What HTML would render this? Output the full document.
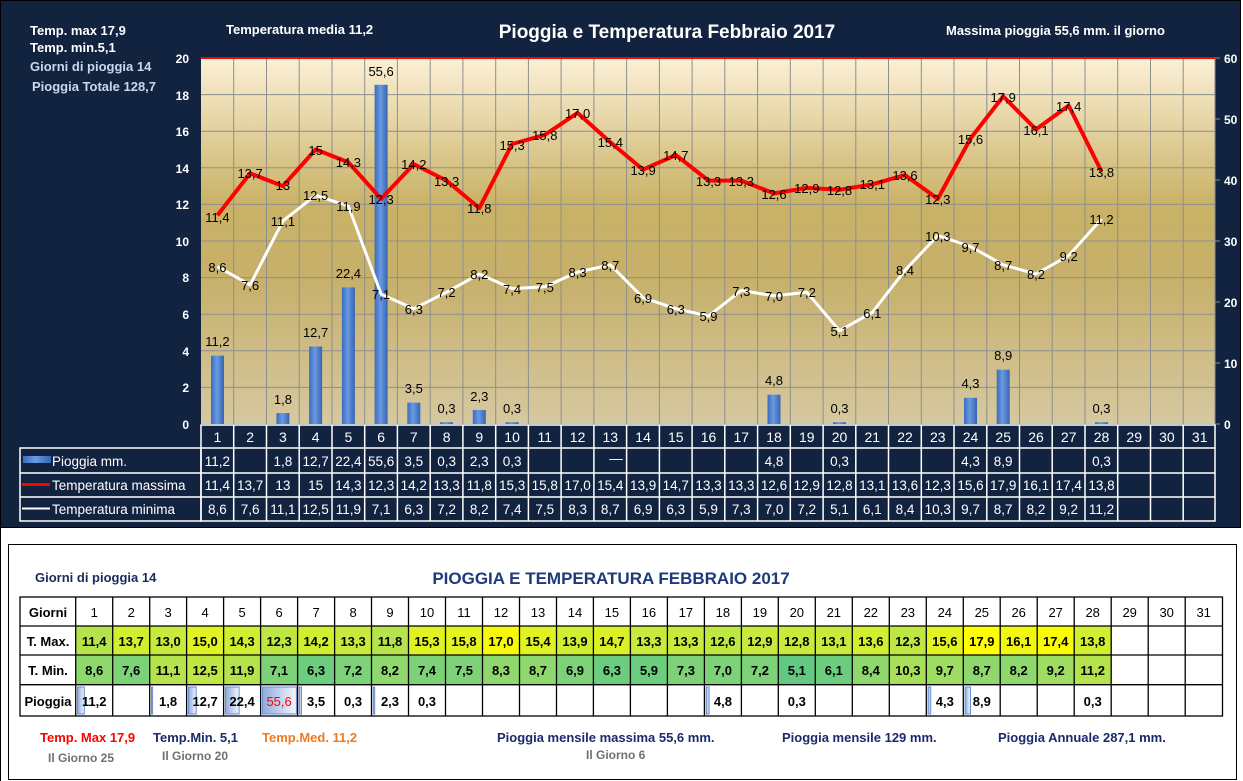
<!DOCTYPE html>
<html><head><meta charset="utf-8"><style>
html,body{margin:0;padding:0;background:#fff;}
svg{display:block;font-family:"Liberation Sans",sans-serif;}
</style></head><body>
<svg width="1243" height="781" viewBox="0 0 1243 781" xmlns="http://www.w3.org/2000/svg">
<defs>
<linearGradient id="bg" x1="0" y1="0" x2="0" y2="1">
<stop offset="0" stop-color="#fcf0d6"/><stop offset="0.4" stop-color="#c9b266"/><stop offset="0.6" stop-color="#c6b06a"/><stop offset="1" stop-color="#d6c8a0"/>
</linearGradient>
<linearGradient id="bar" x1="0" y1="0" x2="1" y2="0">
<stop offset="0" stop-color="#3a6cc0"/><stop offset="0.45" stop-color="#6a9ae0"/><stop offset="1" stop-color="#3564b4"/>
</linearGradient>
<linearGradient id="db" x1="0" y1="0" x2="1" y2="0">
<stop offset="0" stop-color="#8eaadc"/><stop offset="1" stop-color="#f4f7fc"/>
</linearGradient>
</defs>
<rect x="0" y="0" width="1243" height="781" fill="#fff"/>
<rect x="0.5" y="0.5" width="1240" height="527" fill="#12233f" stroke="#000"/>
<line x1="0.5" y1="0" x2="0.5" y2="781" stroke="#000"/>
<!-- top texts -->
<g fill="#fff" font-weight="bold" font-size="13">
<text x="30" y="35">Temp. max  17,9</text>
<text x="30" y="52">Temp.  min.5,1</text>
<text x="226" y="34">Temperatura media  11,2</text>
<text x="946" y="35">Massima pioggia  55,6 mm.  il giorno</text>
</g>
<g fill="#c8d8f0" font-weight="bold" font-size="13">
<text x="30" y="71">Giorni  di pioggia   14</text>
<text x="32" y="91">Pioggia Totale   128,7</text>
</g>
<text x="667" y="38" fill="#fff" font-weight="bold" font-size="19" text-anchor="middle">Pioggia e Temperatura Febbraio 2017</text>
<!-- plot -->
<rect x="201" y="58" width="1014" height="366" fill="url(#bg)"/>
<g stroke="#8e8e8e" stroke-width="1">
<line x1="201" y1="94.6" x2="1215" y2="94.6"/><line x1="201" y1="131.2" x2="1215" y2="131.2"/><line x1="201" y1="167.8" x2="1215" y2="167.8"/><line x1="201" y1="204.4" x2="1215" y2="204.4"/><line x1="201" y1="241" x2="1215" y2="241"/><line x1="201" y1="277.6" x2="1215" y2="277.6"/><line x1="201" y1="314.2" x2="1215" y2="314.2"/><line x1="201" y1="350.8" x2="1215" y2="350.8"/><line x1="201" y1="387.4" x2="1215" y2="387.4"/>
<line x1="233.7" y1="58" x2="233.7" y2="424"/><line x1="266.5" y1="58" x2="266.5" y2="424"/><line x1="299.2" y1="58" x2="299.2" y2="424"/><line x1="332" y1="58" x2="332" y2="424"/><line x1="364.7" y1="58" x2="364.7" y2="424"/><line x1="397.4" y1="58" x2="397.4" y2="424"/><line x1="430.2" y1="58" x2="430.2" y2="424"/><line x1="462.9" y1="58" x2="462.9" y2="424"/><line x1="495.7" y1="58" x2="495.7" y2="424"/><line x1="528.4" y1="58" x2="528.4" y2="424"/><line x1="561.1" y1="58" x2="561.1" y2="424"/><line x1="593.9" y1="58" x2="593.9" y2="424"/><line x1="626.6" y1="58" x2="626.6" y2="424"/><line x1="659.4" y1="58" x2="659.4" y2="424"/><line x1="692.1" y1="58" x2="692.1" y2="424"/><line x1="724.8" y1="58" x2="724.8" y2="424"/><line x1="757.6" y1="58" x2="757.6" y2="424"/><line x1="790.3" y1="58" x2="790.3" y2="424"/><line x1="823.1" y1="58" x2="823.1" y2="424"/><line x1="855.8" y1="58" x2="855.8" y2="424"/><line x1="888.5" y1="58" x2="888.5" y2="424"/><line x1="921.3" y1="58" x2="921.3" y2="424"/><line x1="954" y1="58" x2="954" y2="424"/><line x1="986.8" y1="58" x2="986.8" y2="424"/><line x1="1019.5" y1="58" x2="1019.5" y2="424"/><line x1="1052.2" y1="58" x2="1052.2" y2="424"/><line x1="1085" y1="58" x2="1085" y2="424"/><line x1="1117.7" y1="58" x2="1117.7" y2="424"/><line x1="1150.5" y1="58" x2="1150.5" y2="424"/><line x1="1183.2" y1="58" x2="1183.2" y2="424"/>
<line x1="1215" y1="58" x2="1215" y2="424"/>
<line x1="1215" y1="58" x2="1220" y2="58"/><line x1="1215" y1="119" x2="1220" y2="119"/><line x1="1215" y1="180" x2="1220" y2="180"/><line x1="1215" y1="241" x2="1220" y2="241"/><line x1="1215" y1="302" x2="1220" y2="302"/><line x1="1215" y1="363" x2="1220" y2="363"/><line x1="1215" y1="424" x2="1220" y2="424"/>
</g>
<line x1="201" y1="58" x2="1215" y2="58" stroke="#ff0000" stroke-width="2"/>
<!-- axis labels -->
<g fill="#fff" font-weight="bold" font-size="12" text-anchor="end">
<text x="189" y="63">20</text><text x="189" y="100">18</text><text x="189" y="136">16</text><text x="189" y="173">14</text><text x="189" y="209">12</text><text x="189" y="246">10</text><text x="189" y="282">8</text><text x="189" y="319">6</text><text x="189" y="356">4</text><text x="189" y="392">2</text><text x="189" y="429">0</text>
</g>
<g fill="#fff" font-weight="bold" font-size="12">
<text x="1224" y="63">60</text><text x="1224" y="124">50</text><text x="1224" y="185">40</text><text x="1224" y="246">30</text><text x="1224" y="307">20</text><text x="1224" y="368">10</text><text x="1224" y="429">0</text>
</g>
<!-- bars -->
<g fill="url(#bar)">
<rect x="211" y="355.7" width="13" height="68.3"/>
<rect x="276.4" y="413" width="13" height="11"/>
<rect x="309.1" y="346.5" width="13" height="77.5"/>
<rect x="341.9" y="287.4" width="13" height="136.6"/>
<rect x="374.6" y="84.8" width="13" height="339.2"/>
<rect x="407.3" y="402.6" width="13" height="21.4"/>
<rect x="440.1" y="422.2" width="13" height="1.8"/>
<rect x="472.8" y="410" width="13" height="14"/>
<rect x="505.6" y="422.2" width="13" height="1.8"/>
<rect x="767.5" y="394.7" width="13" height="29.3"/>
<rect x="833" y="422.2" width="13" height="1.8"/>
<rect x="964" y="397.8" width="13" height="26.2"/>
<rect x="996.7" y="369.7" width="13" height="54.3"/>
<rect x="1095" y="422.2" width="13" height="1.8"/>
</g>
<g fill="#000" font-size="13" text-anchor="middle">
<text x="217.4" y="346">11,2</text><text x="282.9" y="404">1,8</text><text x="315.6" y="337">12,7</text><text x="348.4" y="278">22,4</text><text x="381.1" y="76">55,6</text><text x="413.8" y="393">3,5</text><text x="446.6" y="413">0,3</text><text x="479.3" y="401">2,3</text><text x="512.1" y="413">0,3</text><text x="774" y="385">4,8</text><text x="839.5" y="413">0,3</text><text x="970.5" y="388">4,3</text><text x="1003.2" y="360">8,9</text><text x="1101.5" y="413">0,3</text>
</g>
<!-- lines -->
<polyline fill="none" stroke="#fff" stroke-width="3" stroke-linejoin="round" points="217.4,266.6 250.1,284.9 282.9,220.9 315.6,195.3 348.4,206.2 381.1,294.1 413.8,308.7 446.6,292.2 479.3,274 512.1,288.6 544.8,286.8 577.6,272.1 610.3,264.8 643.1,297.7 675.8,308.7 708.5,316 741.3,290.4 774,295.9 806.8,292.2 839.5,330.7 872.3,312.4 905,270.3 937.8,235.5 970.5,246.5 1003.2,264.8 1036,274 1068.7,255.6 1101.5,219"/>
<polyline fill="none" stroke="#ff0000" stroke-width="4" stroke-linejoin="round" points="217.4,215.4 250.1,173.3 282.9,186.1 315.6,149.5 348.4,162.3 381.1,198.9 413.8,164.1 446.6,180.6 479.3,208.1 512.1,144 544.8,134.9 577.6,112.9 610.3,142.2 643.1,169.6 675.8,155 708.5,180.6 741.3,180.6 774,193.4 806.8,187.9 839.5,189.8 872.3,184.3 905,175.1 937.8,198.9 970.5,138.5 1003.2,96.4 1036,129.4 1068.7,105.6 1101.5,171.5"/>
<g fill="#000" font-size="13" text-anchor="middle">
<text x="217.4" y="222">11,4</text><text x="250.1" y="178">13,7</text><text x="282.9" y="190">13</text><text x="315.6" y="155">15</text><text x="348.4" y="167">14,3</text><text x="381.1" y="204">12,3</text><text x="413.8" y="169">14,2</text><text x="446.6" y="186">13,3</text><text x="479.3" y="213">11,8</text><text x="512.1" y="150">15,3</text><text x="544.8" y="140">15,8</text><text x="577.6" y="118">17,0</text><text x="610.3" y="147">15,4</text><text x="643.1" y="175">13,9</text><text x="675.8" y="160">14,7</text><text x="708.5" y="186">13,3</text><text x="741.3" y="186">13,3</text><text x="774" y="199">12,6</text><text x="806.8" y="193">12,9</text><text x="839.5" y="195">12,8</text><text x="872.3" y="189">13,1</text><text x="905" y="180">13,6</text><text x="937.8" y="204">12,3</text><text x="970.5" y="144">15,6</text><text x="1003.2" y="102">17,9</text><text x="1036" y="135">16,1</text><text x="1068.7" y="111">17,4</text><text x="1101.5" y="177">13,8</text>
<text x="217.4" y="272">8,6</text><text x="250.1" y="290">7,6</text><text x="282.9" y="226">11,1</text><text x="315.6" y="200">12,5</text><text x="348.4" y="211">11,9</text><text x="381.1" y="299">7,1</text><text x="413.8" y="314">6,3</text><text x="446.6" y="297">7,2</text><text x="479.3" y="279">8,2</text><text x="512.1" y="294">7,4</text><text x="544.8" y="292">7,5</text><text x="577.6" y="277">8,3</text><text x="610.3" y="270">8,7</text><text x="643.1" y="303">6,9</text><text x="675.8" y="314">6,3</text><text x="708.5" y="321">5,9</text><text x="741.3" y="296">7,3</text><text x="774" y="301">7,0</text><text x="806.8" y="297">7,2</text><text x="839.5" y="336">5,1</text><text x="872.3" y="318">6,1</text><text x="905" y="275">8,4</text><text x="937.8" y="241">10,3</text><text x="970.5" y="252">9,7</text><text x="1003.2" y="270">8,7</text><text x="1036" y="279">8,2</text><text x="1068.7" y="261">9,2</text><text x="1101.5" y="224">11,2</text>
</g>
<!-- data table top -->
<g stroke="#fff" stroke-width="1.5" fill="none">
<rect x="201" y="425" width="1014" height="96"/>
<rect x="20" y="448" width="181" height="73"/>
<line x1="20" y1="473" x2="1215" y2="473"/><line x1="20" y1="497" x2="1215" y2="497"/><line x1="201" y1="448" x2="1215" y2="448"/>
<line x1="233.7" y1="425" x2="233.7" y2="521"/><line x1="266.5" y1="425" x2="266.5" y2="521"/><line x1="299.2" y1="425" x2="299.2" y2="521"/><line x1="332" y1="425" x2="332" y2="521"/><line x1="364.7" y1="425" x2="364.7" y2="521"/><line x1="397.4" y1="425" x2="397.4" y2="521"/><line x1="430.2" y1="425" x2="430.2" y2="521"/><line x1="462.9" y1="425" x2="462.9" y2="521"/><line x1="495.7" y1="425" x2="495.7" y2="521"/><line x1="528.4" y1="425" x2="528.4" y2="521"/><line x1="561.1" y1="425" x2="561.1" y2="521"/><line x1="593.9" y1="425" x2="593.9" y2="521"/><line x1="626.6" y1="425" x2="626.6" y2="521"/><line x1="659.4" y1="425" x2="659.4" y2="521"/><line x1="692.1" y1="425" x2="692.1" y2="521"/><line x1="724.8" y1="425" x2="724.8" y2="521"/><line x1="757.6" y1="425" x2="757.6" y2="521"/><line x1="790.3" y1="425" x2="790.3" y2="521"/><line x1="823.1" y1="425" x2="823.1" y2="521"/><line x1="855.8" y1="425" x2="855.8" y2="521"/><line x1="888.5" y1="425" x2="888.5" y2="521"/><line x1="921.3" y1="425" x2="921.3" y2="521"/><line x1="954" y1="425" x2="954" y2="521"/><line x1="986.8" y1="425" x2="986.8" y2="521"/><line x1="1019.5" y1="425" x2="1019.5" y2="521"/><line x1="1052.2" y1="425" x2="1052.2" y2="521"/><line x1="1085" y1="425" x2="1085" y2="521"/><line x1="1117.7" y1="425" x2="1117.7" y2="521"/><line x1="1150.5" y1="425" x2="1150.5" y2="521"/><line x1="1183.2" y1="425" x2="1183.2" y2="521"/>
</g>
<rect x="23" y="456" width="28" height="7" fill="url(#bar)"/>
<line x1="22" y1="484.5" x2="50" y2="484.5" stroke="#ff0000" stroke-width="3"/>
<line x1="22" y1="508.5" x2="50" y2="508.5" stroke="#fff" stroke-width="2"/>
<g fill="#fff" font-size="13.5">
<text x="52" y="466">Pioggia mm.</text><text x="52" y="490">Temperatura massima</text><text x="52" y="514">Temperatura minima</text>
</g>
<g fill="#fff" font-size="14" text-anchor="middle">
<text x="217.4" y="442">1</text><text x="250.1" y="442">2</text><text x="282.9" y="442">3</text><text x="315.6" y="442">4</text><text x="348.4" y="442">5</text><text x="381.1" y="442">6</text><text x="413.8" y="442">7</text><text x="446.6" y="442">8</text><text x="479.3" y="442">9</text><text x="512.1" y="442">10</text><text x="544.8" y="442">11</text><text x="577.6" y="442">12</text><text x="610.3" y="442">13</text><text x="643.1" y="442">14</text><text x="675.8" y="442">15</text><text x="708.5" y="442">16</text><text x="741.3" y="442">17</text><text x="774" y="442">18</text><text x="806.8" y="442">19</text><text x="839.5" y="442">20</text><text x="872.3" y="442">21</text><text x="905" y="442">22</text><text x="937.8" y="442">23</text><text x="970.5" y="442">24</text><text x="1003.2" y="442">25</text><text x="1036" y="442">26</text><text x="1068.7" y="442">27</text><text x="1101.5" y="442">28</text><text x="1134.2" y="442">29</text><text x="1166.9" y="442">30</text><text x="1199.7" y="442">31</text>
</g>
<g fill="#fff" font-size="13.5" text-anchor="middle">
<text x="217.4" y="466">11,2</text><text x="282.9" y="466">1,8</text><text x="315.6" y="466">12,7</text><text x="348.4" y="466">22,4</text><text x="381.1" y="466">55,6</text><text x="413.8" y="466">3,5</text><text x="446.6" y="466">0,3</text><text x="479.3" y="466">2,3</text><text x="512.1" y="466">0,3</text><text x="616" y="463">—</text><text x="774" y="466">4,8</text><text x="839.5" y="466">0,3</text><text x="970.5" y="466">4,3</text><text x="1003.2" y="466">8,9</text><text x="1101.5" y="466">0,3</text>
<text x="217.4" y="490">11,4</text><text x="250.1" y="490">13,7</text><text x="282.9" y="490">13</text><text x="315.6" y="490">15</text><text x="348.4" y="490">14,3</text><text x="381.1" y="490">12,3</text><text x="413.8" y="490">14,2</text><text x="446.6" y="490">13,3</text><text x="479.3" y="490">11,8</text><text x="512.1" y="490">15,3</text><text x="544.8" y="490">15,8</text><text x="577.6" y="490">17,0</text><text x="610.3" y="490">15,4</text><text x="643.1" y="490">13,9</text><text x="675.8" y="490">14,7</text><text x="708.5" y="490">13,3</text><text x="741.3" y="490">13,3</text><text x="774" y="490">12,6</text><text x="806.8" y="490">12,9</text><text x="839.5" y="490">12,8</text><text x="872.3" y="490">13,1</text><text x="905" y="490">13,6</text><text x="937.8" y="490">12,3</text><text x="970.5" y="490">15,6</text><text x="1003.2" y="490">17,9</text><text x="1036" y="490">16,1</text><text x="1068.7" y="490">17,4</text><text x="1101.5" y="490">13,8</text>
<text x="217.4" y="514">8,6</text><text x="250.1" y="514">7,6</text><text x="282.9" y="514">11,1</text><text x="315.6" y="514">12,5</text><text x="348.4" y="514">11,9</text><text x="381.1" y="514">7,1</text><text x="413.8" y="514">6,3</text><text x="446.6" y="514">7,2</text><text x="479.3" y="514">8,2</text><text x="512.1" y="514">7,4</text><text x="544.8" y="514">7,5</text><text x="577.6" y="514">8,3</text><text x="610.3" y="514">8,7</text><text x="643.1" y="514">6,9</text><text x="675.8" y="514">6,3</text><text x="708.5" y="514">5,9</text><text x="741.3" y="514">7,3</text><text x="774" y="514">7,0</text><text x="806.8" y="514">7,2</text><text x="839.5" y="514">5,1</text><text x="872.3" y="514">6,1</text><text x="905" y="514">8,4</text><text x="937.8" y="514">10,3</text><text x="970.5" y="514">9,7</text><text x="1003.2" y="514">8,7</text><text x="1036" y="514">8,2</text><text x="1068.7" y="514">9,2</text><text x="1101.5" y="514">11,2</text>
</g>

<!-- bottom panel -->
<rect x="8.5" y="544.5" width="1228" height="235" fill="#fff" stroke="#000"/>
<text x="35" y="582" fill="#1a2a5a" font-weight="bold" font-size="13">Giorni di pioggia  14</text>
<text x="611" y="584" fill="#1f3a7a" font-weight="bold" font-size="17" text-anchor="middle">PIOGGIA E TEMPERATURA FEBBRAIO 2017</text>
<!-- cell fills T.Max -->
<g>
<rect x="75.7" y="626" width="37" height="29" fill="#b4e34c"/><rect x="112.7" y="626" width="37" height="29" fill="#d2ee31"/><rect x="149.7" y="626" width="37" height="29" fill="#c7ea3c"/><rect x="186.6" y="626" width="37" height="29" fill="#e0f223"/><rect x="223.6" y="626" width="37" height="29" fill="#d2ee31"/><rect x="260.6" y="626" width="37" height="29" fill="#bfe744"/><rect x="297.6" y="626" width="37" height="29" fill="#d2ee31"/><rect x="334.6" y="626" width="37" height="29" fill="#c7ea3c"/><rect x="371.5" y="626" width="37" height="29" fill="#b4e34c"/><rect x="408.5" y="626" width="37" height="29" fill="#e0f223"/><rect x="445.5" y="626" width="37" height="29" fill="#e4f420"/><rect x="482.5" y="626" width="37" height="29" fill="#f6fa0a"/><rect x="519.5" y="626" width="37" height="29" fill="#e0f223"/><rect x="556.5" y="626" width="37" height="29" fill="#d2ee31"/><rect x="593.4" y="626" width="37" height="29" fill="#dcf027"/><rect x="630.4" y="626" width="37" height="29" fill="#c7ea3c"/><rect x="667.4" y="626" width="37" height="29" fill="#c7ea3c"/><rect x="704.4" y="626" width="37" height="29" fill="#bfe744"/><rect x="741.4" y="626" width="37" height="29" fill="#c7ea3c"/><rect x="778.3" y="626" width="37" height="29" fill="#c7ea3c"/><rect x="815.3" y="626" width="37" height="29" fill="#c7ea3c"/><rect x="852.3" y="626" width="37" height="29" fill="#d2ee31"/><rect x="889.3" y="626" width="37" height="29" fill="#bfe744"/><rect x="926.3" y="626" width="37" height="29" fill="#e2f321"/><rect x="963.3" y="626" width="37" height="29" fill="#ffff00"/><rect x="1000.2" y="626" width="37" height="29" fill="#f0f812"/><rect x="1037.2" y="626" width="37" height="29" fill="#fafc05"/><rect x="1074.2" y="626" width="37" height="29" fill="#d2ee31"/>
</g>
<g>
<rect x="75.7" y="655" width="37" height="29.7" fill="#8fd86d"/><rect x="112.7" y="655" width="37" height="29.7" fill="#7dd277"/><rect x="149.7" y="655" width="37" height="29.7" fill="#b4e34c"/><rect x="186.6" y="655" width="37" height="29.7" fill="#bfe744"/><rect x="223.6" y="655" width="37" height="29.7" fill="#b4e34c"/><rect x="260.6" y="655" width="37" height="29.7" fill="#7dd277"/><rect x="297.6" y="655" width="37" height="29.7" fill="#6dcd7e"/><rect x="334.6" y="655" width="37" height="29.7" fill="#7dd277"/><rect x="371.5" y="655" width="37" height="29.7" fill="#8fd86d"/><rect x="408.5" y="655" width="37" height="29.7" fill="#7dd277"/><rect x="445.5" y="655" width="37" height="29.7" fill="#7dd277"/><rect x="482.5" y="655" width="37" height="29.7" fill="#8fd86d"/><rect x="519.5" y="655" width="37" height="29.7" fill="#8fd86d"/><rect x="556.5" y="655" width="37" height="29.7" fill="#7dd277"/><rect x="593.4" y="655" width="37" height="29.7" fill="#6dcd7e"/><rect x="630.4" y="655" width="37" height="29.7" fill="#6dcd7e"/><rect x="667.4" y="655" width="37" height="29.7" fill="#7dd277"/><rect x="704.4" y="655" width="37" height="29.7" fill="#7dd277"/><rect x="741.4" y="655" width="37" height="29.7" fill="#7dd277"/><rect x="778.3" y="655" width="37" height="29.7" fill="#63c884"/><rect x="815.3" y="655" width="37" height="29.7" fill="#6dcd7e"/><rect x="852.3" y="655" width="37" height="29.7" fill="#8fd86d"/><rect x="889.3" y="655" width="37" height="29.7" fill="#a8df58"/><rect x="926.3" y="655" width="37" height="29.7" fill="#9edd62"/><rect x="963.3" y="655" width="37" height="29.7" fill="#8fd86d"/><rect x="1000.2" y="655" width="37" height="29.7" fill="#8fd86d"/><rect x="1037.2" y="655" width="37" height="29.7" fill="#9edd62"/><rect x="1074.2" y="655" width="37" height="29.7" fill="#b4e34c"/>
</g>
<!-- data bars -->
<g fill="url(#db)" stroke="#6a8fcf" stroke-width="1">
<rect x="77.5" y="687" width="6.8" height="27"/><rect x="151.5" y="687" width="1.1" height="27"/><rect x="188.4" y="687" width="7.8" height="27"/><rect x="225.4" y="687" width="13.7" height="27"/><rect x="262.4" y="687" width="34" height="27"/><rect x="299.4" y="687" width="2.1" height="27"/><rect x="373.3" y="687" width="1.4" height="27"/><rect x="706.2" y="687" width="2.9" height="27"/><rect x="928.1" y="687" width="2.6" height="27"/><rect x="965.1" y="687" width="5.4" height="27"/>
</g>
<!-- bottom grid -->
<g stroke="#000" stroke-width="1.3" fill="none">
<rect x="20" y="597" width="1202.5" height="119"/>
<line x1="20" y1="626" x2="1222.5" y2="626"/><line x1="20" y1="655" x2="1222.5" y2="655"/><line x1="20" y1="684.7" x2="1222.5" y2="684.7"/>
<line x1="75.7" y1="597" x2="75.7" y2="716"/><line x1="112.7" y1="597" x2="112.7" y2="716"/><line x1="149.7" y1="597" x2="149.7" y2="716"/><line x1="186.6" y1="597" x2="186.6" y2="716"/><line x1="223.6" y1="597" x2="223.6" y2="716"/><line x1="260.6" y1="597" x2="260.6" y2="716"/><line x1="297.6" y1="597" x2="297.6" y2="716"/><line x1="334.6" y1="597" x2="334.6" y2="716"/><line x1="371.5" y1="597" x2="371.5" y2="716"/><line x1="408.5" y1="597" x2="408.5" y2="716"/><line x1="445.5" y1="597" x2="445.5" y2="716"/><line x1="482.5" y1="597" x2="482.5" y2="716"/><line x1="519.5" y1="597" x2="519.5" y2="716"/><line x1="556.5" y1="597" x2="556.5" y2="716"/><line x1="593.4" y1="597" x2="593.4" y2="716"/><line x1="630.4" y1="597" x2="630.4" y2="716"/><line x1="667.4" y1="597" x2="667.4" y2="716"/><line x1="704.4" y1="597" x2="704.4" y2="716"/><line x1="741.4" y1="597" x2="741.4" y2="716"/><line x1="778.3" y1="597" x2="778.3" y2="716"/><line x1="815.3" y1="597" x2="815.3" y2="716"/><line x1="852.3" y1="597" x2="852.3" y2="716"/><line x1="889.3" y1="597" x2="889.3" y2="716"/><line x1="926.3" y1="597" x2="926.3" y2="716"/><line x1="963.3" y1="597" x2="963.3" y2="716"/><line x1="1000.2" y1="597" x2="1000.2" y2="716"/><line x1="1037.2" y1="597" x2="1037.2" y2="716"/><line x1="1074.2" y1="597" x2="1074.2" y2="716"/><line x1="1111.2" y1="597" x2="1111.2" y2="716"/><line x1="1148.2" y1="597" x2="1148.2" y2="716"/><line x1="1185.2" y1="597" x2="1185.2" y2="716"/>
</g>
<g fill="#000" font-weight="bold" font-size="13" text-anchor="middle">
<text x="48" y="617">Giorni</text><text x="48" y="646">T. Max.</text><text x="48" y="675">T. Min.</text><text x="48" y="706">Pioggia</text>
</g>
<g fill="#000" font-size="13" text-anchor="middle">
<text x="94.2" y="617">1</text><text x="131.2" y="617">2</text><text x="168.1" y="617">3</text><text x="205.1" y="617">4</text><text x="242.1" y="617">5</text><text x="279.1" y="617">6</text><text x="316.1" y="617">7</text><text x="353.1" y="617">8</text><text x="390" y="617">9</text><text x="427" y="617">10</text><text x="464" y="617">11</text><text x="501" y="617">12</text><text x="538" y="617">13</text><text x="575" y="617">14</text><text x="611.9" y="617">15</text><text x="648.9" y="617">16</text><text x="685.9" y="617">17</text><text x="722.9" y="617">18</text><text x="759.9" y="617">19</text><text x="796.8" y="617">20</text><text x="833.8" y="617">21</text><text x="870.8" y="617">22</text><text x="907.8" y="617">23</text><text x="944.8" y="617">24</text><text x="981.8" y="617">25</text><text x="1018.7" y="617">26</text><text x="1055.7" y="617">27</text><text x="1092.7" y="617">28</text><text x="1129.7" y="617">29</text><text x="1166.7" y="617">30</text><text x="1203.7" y="617">31</text>
</g>
<g fill="#000" font-weight="bold" font-size="13" text-anchor="middle">
<text x="94.2" y="646">11,4</text><text x="131.2" y="646">13,7</text><text x="168.1" y="646">13,0</text><text x="205.1" y="646">15,0</text><text x="242.1" y="646">14,3</text><text x="279.1" y="646">12,3</text><text x="316.1" y="646">14,2</text><text x="353.1" y="646">13,3</text><text x="390" y="646">11,8</text><text x="427" y="646">15,3</text><text x="464" y="646">15,8</text><text x="501" y="646">17,0</text><text x="538" y="646">15,4</text><text x="575" y="646">13,9</text><text x="611.9" y="646">14,7</text><text x="648.9" y="646">13,3</text><text x="685.9" y="646">13,3</text><text x="722.9" y="646">12,6</text><text x="759.9" y="646">12,9</text><text x="796.8" y="646">12,8</text><text x="833.8" y="646">13,1</text><text x="870.8" y="646">13,6</text><text x="907.8" y="646">12,3</text><text x="944.8" y="646">15,6</text><text x="981.8" y="646">17,9</text><text x="1018.7" y="646">16,1</text><text x="1055.7" y="646">17,4</text><text x="1092.7" y="646">13,8</text>
<text x="94.2" y="675">8,6</text><text x="131.2" y="675">7,6</text><text x="168.1" y="675">11,1</text><text x="205.1" y="675">12,5</text><text x="242.1" y="675">11,9</text><text x="279.1" y="675">7,1</text><text x="316.1" y="675">6,3</text><text x="353.1" y="675">7,2</text><text x="390" y="675">8,2</text><text x="427" y="675">7,4</text><text x="464" y="675">7,5</text><text x="501" y="675">8,3</text><text x="538" y="675">8,7</text><text x="575" y="675">6,9</text><text x="611.9" y="675">6,3</text><text x="648.9" y="675">5,9</text><text x="685.9" y="675">7,3</text><text x="722.9" y="675">7,0</text><text x="759.9" y="675">7,2</text><text x="796.8" y="675">5,1</text><text x="833.8" y="675">6,1</text><text x="870.8" y="675">8,4</text><text x="907.8" y="675">10,3</text><text x="944.8" y="675">9,7</text><text x="981.8" y="675">8,7</text><text x="1018.7" y="675">8,2</text><text x="1055.7" y="675">9,2</text><text x="1092.7" y="675">11,2</text>
<text x="94.2" y="706">11,2</text><text x="168.1" y="706">1,8</text><text x="205.1" y="706">12,7</text><text x="242.1" y="706">22,4</text><text x="279.1" y="706" fill="#ff0000" font-weight="normal">55,6</text><text x="316.1" y="706">3,5</text><text x="353.1" y="706">0,3</text><text x="390" y="706">2,3</text><text x="427" y="706">0,3</text><text x="722.9" y="706">4,8</text><text x="796.8" y="706">0,3</text><text x="944.8" y="706">4,3</text><text x="981.8" y="706">8,9</text><text x="1092.7" y="706">0,3</text>
</g>
<!-- footer -->
<g font-weight="bold" font-size="13">
<text x="40" y="742" fill="#ff0000">Temp. Max 17,9</text>
<text x="153" y="742" fill="#1a2a6a">Temp.Min.  5,1</text>
<text x="262" y="742" fill="#f07a20">Temp.Med. 11,2</text>
<text x="497" y="742" fill="#1a2a6a">Pioggia mensile massima 55,6  mm.</text>
<text x="782" y="742" fill="#1a2a6a">Pioggia mensile 129 mm.</text>
<text x="998" y="742" fill="#1a2a6a">Pioggia Annuale 287,1 mm.</text>
</g>
<g font-size="12" fill="#707070" font-weight="bold">
<text x="48" y="762">Il Giorno 25</text>
<text x="162" y="760">Il Giorno 20</text>
<text x="586" y="759">Il Giorno  6</text>
</g>
</svg>
</body></html>
